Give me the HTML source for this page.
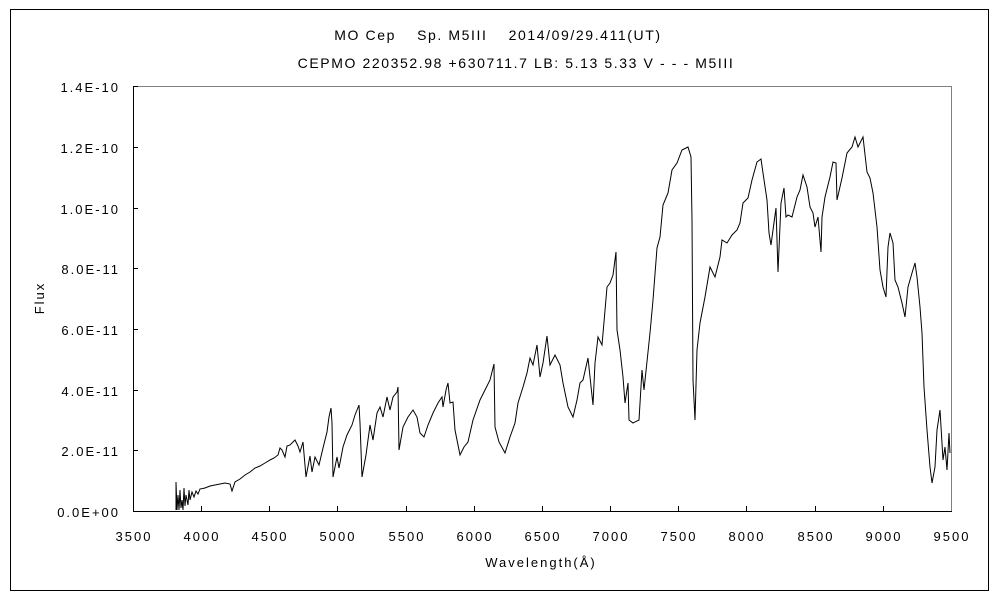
<!DOCTYPE html>
<html><head><meta charset="utf-8"><style>
body{margin:0;background:#fff;}
svg text{font-family:"Liberation Sans","Noto Sans CJK JP",sans-serif;font-size:13px;fill:#000;letter-spacing:2px;}
svg text.t{font-size:14px;letter-spacing:1.6px;}
</style></head><body>
<svg width="1000" height="600" viewBox="0 0 1000 600" xmlns="http://www.w3.org/2000/svg">
<rect x="10.5" y="9.5" width="978" height="581" fill="#fff" stroke="#000" stroke-width="1"/>
<text class="t" x="498" y="40" text-anchor="middle">MO Cep　 Sp. M5III　 2014/09/29.411(UT)</text>
<text class="t" x="516" y="68" text-anchor="middle">CEPMO 220352.98 +630711.7 LB: 5.13 5.33 V - - - M5III</text>
<line x1="133" y1="86.5" x2="951" y2="86.5" stroke="#808080"/>
<line x1="951.5" y1="86" x2="951.5" y2="511" stroke="#808080"/>
<line x1="133.5" y1="86" x2="133.5" y2="511" stroke="#000"/>
<line x1="133" y1="511.5" x2="952" y2="511.5" stroke="#000"/>
<g stroke="#000">
<line x1="133" y1="86.5" x2="138" y2="86.5"/><line x1="133" y1="147.5" x2="138" y2="147.5"/><line x1="133" y1="208.5" x2="138" y2="208.5"/><line x1="133" y1="268.5" x2="138" y2="268.5"/><line x1="133" y1="329.5" x2="138" y2="329.5"/><line x1="133" y1="390.5" x2="138" y2="390.5"/><line x1="133" y1="450.5" x2="138" y2="450.5"/>
<line x1="201.5" y1="506" x2="201.5" y2="511"/><line x1="269.5" y1="506" x2="269.5" y2="511"/><line x1="337.5" y1="506" x2="337.5" y2="511"/><line x1="406.5" y1="506" x2="406.5" y2="511"/><line x1="474.5" y1="506" x2="474.5" y2="511"/><line x1="542.5" y1="506" x2="542.5" y2="511"/><line x1="610.5" y1="506" x2="610.5" y2="511"/><line x1="678.5" y1="506" x2="678.5" y2="511"/><line x1="746.5" y1="506" x2="746.5" y2="511"/><line x1="815.5" y1="506" x2="815.5" y2="511"/><line x1="883.5" y1="506" x2="883.5" y2="511"/>
</g>
<g text-anchor="end">
<text x="120" y="92">1.4E-10</text><text x="120" y="153">1.2E-10</text><text x="120" y="214">1.0E-10</text><text x="120" y="274">8.0E-11</text><text x="120" y="335">6.0E-11</text><text x="120" y="396">4.0E-11</text><text x="120" y="456">2.0E-11</text><text x="120" y="517">0.0E+00</text>
</g>
<g text-anchor="middle">
<text x="134" y="541">3500</text><text x="202" y="541">4000</text><text x="270" y="541">4500</text><text x="338" y="541">5000</text><text x="407" y="541">5500</text><text x="475" y="541">6000</text><text x="543" y="541">6500</text><text x="611" y="541">7000</text><text x="679" y="541">7500</text><text x="747" y="541">8000</text><text x="816" y="541">8500</text><text x="884" y="541">9000</text><text x="952" y="541">9500</text>
<text x="541" y="567">Wavelength(Å)</text>
<text x="0" y="0" transform="translate(44,298) rotate(-90)">Flux</text>
</g>
<polyline fill="none" stroke="#000" stroke-width="1" points="176,510 176,482 177,510 178,495 179,510 180,490 181,508 182,500 183,510 184,488 185,506 186,495 188,505 189,490 190,500 192,492 194,497 196,491 198,494 200,489 205,488 210,486 215,485 220,484 225,483 230,484 232,491 235,482 240,479 245,475 250,472 255,468 260,466 265,463 270,460 274,458 278,455 280,448 282,450 285,457 287,446 290,445 293,442 295,440 298,446 300,452 303,442 306,477 310,456 312,472 315,457 319,465 323,448 327,432 329,417 331,408 332,423 333,477 337,457 339,468 343,447 347,435 352,425 355,415 359,405 360,423 362,477 366,455 370,425 373,440 377,413 380,407 383,417 387,397 390,410 393,397 397,392 398,387 399,450 403,427 408,417 413,410 417,417 420,433 424,437 428,425 433,413 438,403 442,397 443,407 446,390 448,383 450,403 453,402 455,430 460,455 464,447 468,442 473,420 480,400 485,390 490,380 494,364 495,427 499,442 505,453 510,437 515,423 518,403 523,387 527,373 530,358 533,365 537,345 540,377 543,363 547,336 550,365 555,355 560,365 563,383 568,407 573,417 577,400 580,383 583,380 588,358 593,405 595,363 598,337 602,345 604,322 607,287 610,283 613,275 616,252 617,330 620,350 623,377 625,403 628,383 629,420 633,423 639,420 642,370 644,390 650,333 653,300 657,248 660,237 663,205 668,193 672,170 677,163 682,150 688,147 691,157 692,220 693,380 695,420 697,350 700,323 705,297 710,267 715,277 720,257 722,240 727,243 732,235 737,230 740,223 743,203 748,198 752,180 757,162 761,159 763,173 767,200 769,233 771,245 773,230 776,208 778,272 781,203 784,188 786,217 788,215 792,217 797,197 800,190 803,175 807,187 810,207 813,213 815,227 818,217 821,252 822,217 825,197 830,177 833,162 836,163 837,200 842,178 847,153 852,147 855,137 858,147 863,137 867,172 870,178 873,193 877,227 880,270 883,287 886,297 888,247 890,233 893,243 895,280 898,287 902,303 905,317 908,287 912,273 915,263 917,277 920,307 922,333 924,387 927,430 930,467 932,483 935,467 937,430 940,410 943,460 945,447 947,470 949,433 950,453"/>
</svg>
</body></html>
